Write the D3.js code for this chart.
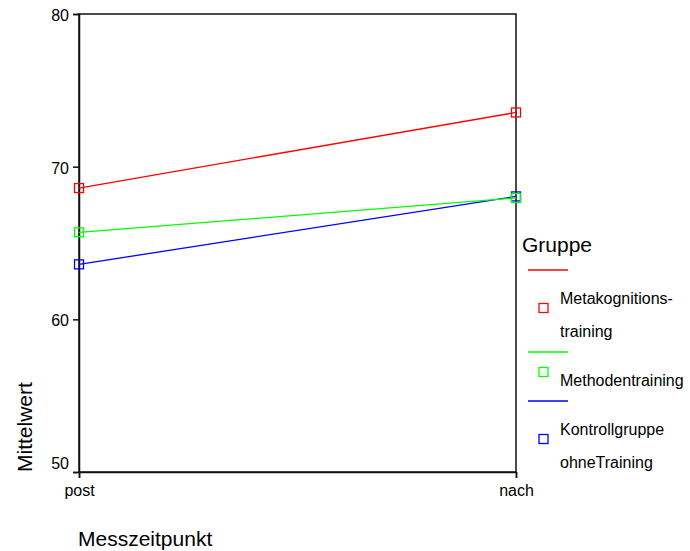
<!DOCTYPE html>
<html>
<head>
<meta charset="utf-8">
<script src="https://cdn.jsdelivr.net/npm/d3@7"></script>
<style>
  body { margin: 0; background: #fff; }
  text { font-family: Arial, "Liberation Sans", sans-serif; fill: #000; }
</style>
</head>
<body>
<div id="chart"></div>
<script>
const width = 690, height = 551;

// data
const timepoints = ["post", "nach"];
const groupNames = ["Metakognitionstraining", "Methodentraining", "Kontrollgruppe ohneTraining"];
const legendLines = [["Metakognitions-", "training"], ["Methodentraining"], ["Kontrollgruppe", "ohneTraining"]];
const groupColors = ["#ff0000", "#00ff00", "#0000ff"];
const metaValues = [68.6, 73.55];
const methodValues = [65.7, 67.95];
const controlValues = [63.6, 68.05];
const yTicks = [50, 60, 70, 80];

const series = [metaValues, methodValues, controlValues];
const drawOrder = [0, 2, 1]; // green marker sits on top of blue at "nach"

const svg = d3.select("#chart")
    .append("svg")
    .attr("width", width)
    .attr("height", height);

const x = d3.scalePoint().domain(timepoints).range([79, 516]);
const y = d3.scaleLinear().domain([50, 80]).range([472, 14]);

// frame
svg.append("rect")
    .attr("x", 79).attr("y", 14)
    .attr("width", 516 - 79).attr("height", 472 - 14)
    .attr("fill", "none")
    .attr("stroke", "#111")
    .attr("stroke-width", 1.5);

// y axis
const yAxis = svg.append("g")
    .attr("transform", "translate(79,0)")
    .call(d3.axisLeft(y).tickValues(yTicks).tickSize(6).tickPadding(4));
yAxis.select(".domain").attr("stroke", "#111").attr("stroke-width", 1.5);
yAxis.selectAll(".tick line").attr("stroke", "#111").attr("stroke-width", 1.5);
yAxis.selectAll(".tick text")
    .attr("font-size", 16)
    .attr("dy", d => d === 50 ? "-0.25em" : "0.4em");

// x axis
const xAxis = svg.append("g")
    .attr("transform", "translate(0,472)")
    .call(d3.axisBottom(x).tickSize(6).tickPadding(4));
xAxis.select(".domain").attr("stroke", "#111").attr("stroke-width", 1.5);
xAxis.selectAll(".tick line").attr("stroke", "#111").attr("stroke-width", 1.5);
xAxis.selectAll(".tick text").attr("font-size", 16).attr("dy", "0.9em");

// axis titles
svg.append("text")
    .attr("transform", "translate(32,472) rotate(-90)")
    .attr("font-size", 21)
    .text("Mittelwert");

svg.append("text")
    .attr("x", 78).attr("y", 546)
    .attr("font-size", 21)
    .text("Messzeitpunkt");

// lines + markers
const line = d3.line()
    .x((d, i) => x(timepoints[i]))
    .y(d => y(d));

drawOrder.forEach(k => {
    const vals = series[k];
    svg.append("path")
        .attr("d", line(vals))
        .attr("fill", "none")
        .attr("stroke", groupColors[k])
        .attr("stroke-width", 1.3);

    svg.selectAll(null)
        .data(vals)
        .join("rect")
        .attr("x", (d, i) => x(timepoints[i]) - 4.5)
        .attr("y", d => y(d) - 4.5)
        .attr("width", 9).attr("height", 9)
        .attr("fill", "none")
        .attr("stroke", groupColors[k])
        .attr("stroke-width", 1.3);
});

// legend
svg.append("text")
    .attr("x", 522).attr("y", 252)
    .attr("font-size", 21)
    .text("Gruppe");

let ly = 270;
legendLines.forEach((lines, k) => {
    svg.append("line")
        .attr("x1", 528).attr("x2", 568)
        .attr("y1", ly).attr("y2", ly)
        .attr("stroke", groupColors[k])
        .attr("stroke-width", 1.3);

    const sq = lines.length > 1 ? ly + 38 : ly + 20;
    svg.append("rect")
        .attr("x", 539).attr("y", sq - 4.5)
        .attr("width", 9).attr("height", 9)
        .attr("fill", "none")
        .attr("stroke", groupColors[k])
        .attr("stroke-width", 1.3);

    lines.forEach((t, j) => {
        svg.append("text")
            .attr("x", 560)
            .attr("y", ly + 34 + j * 33)
            .attr("font-size", 16)
            .text(t);
    });

    ly += 16 + 33 * lines.length;
});
</script>
</body>
</html>
